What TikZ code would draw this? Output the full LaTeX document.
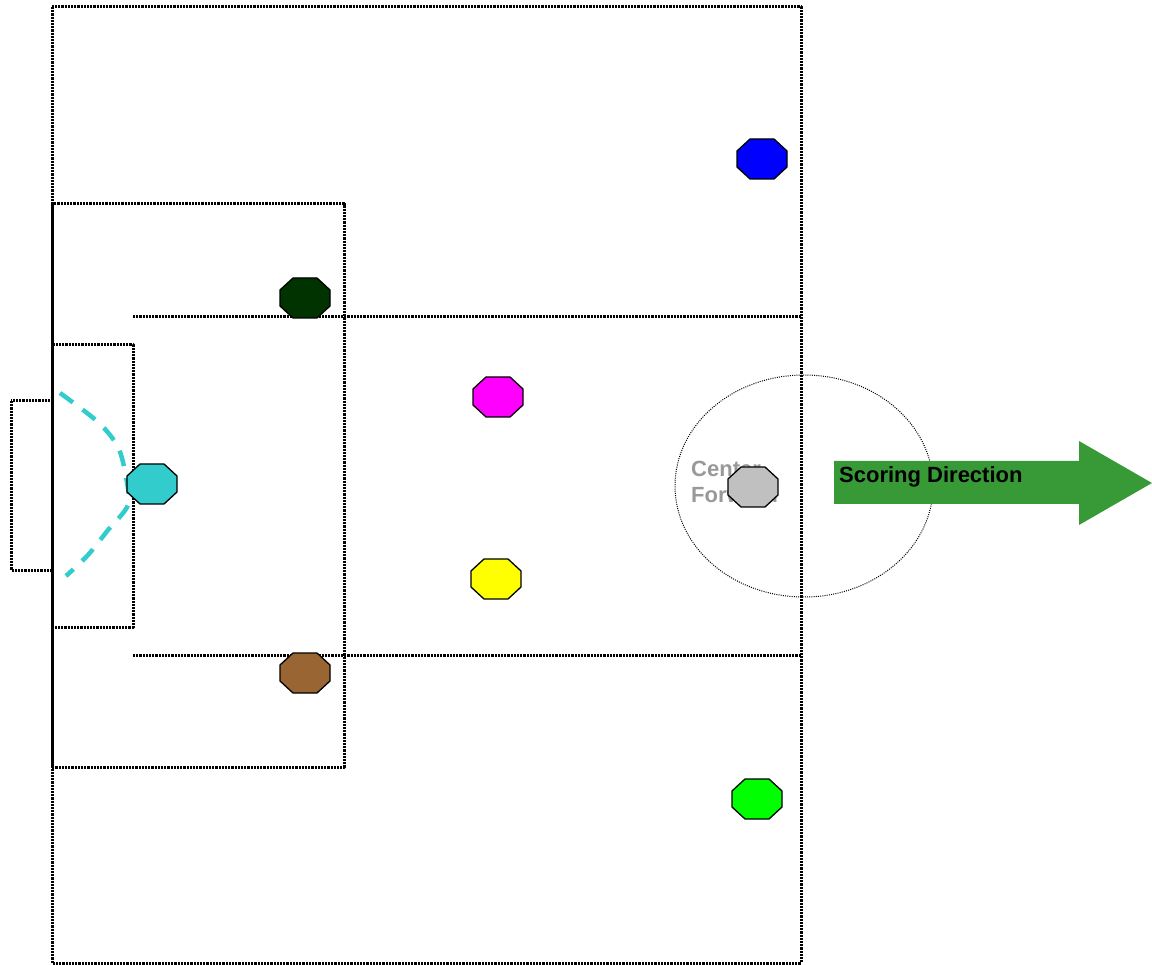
\documentclass[tikz,border=0pt]{standalone}
\usepackage{fontspec}
\setmainfont{Liberation Sans}
\definecolor{keeper}{HTML}{33CCCC}
\definecolor{winger}{HTML}{0000FF}
\definecolor{darkback}{HTML}{003300}
\definecolor{brownback}{HTML}{996633}
\definecolor{playmaker}{HTML}{FF00FF}
\definecolor{holder}{HTML}{FFFF00}
\definecolor{otherwing}{HTML}{00FF00}
\definecolor{striker}{HTML}{C0C0C0}
\definecolor{arrowgreen}{HTML}{379A37}
\definecolor{labelgrey}{HTML}{999999}
\begin{document}
\begin{tikzpicture}[x=1pt,y=-1pt,line join=round,
	pitch/.style={line width=3pt,dash pattern=on 2.2pt off 1pt},
	player/.style={draw=black,line width=1.3pt},
	every node/.style={font=\fontsize{22}{26}\selectfont\bfseries,inner sep=0pt}]
	\useasboundingbox (0,0) rectangle (1152,965);
	\path
	(52,7) coordinate (F1)
	(801,963) coordinate (F2)
	(52,204) coordinate (P1)
	(344,767) coordinate (P2)
	(52,345) coordinate (G1)
	(133,627) coordinate (G2)
	(11,401) coordinate (N1)
	(52,570) coordinate (N2)
	(133,317) coordinate (L1)
	(801,317) coordinate (L2)
	(133,655) coordinate (L3)
	(801,655) coordinate (L4)
	(804,486) coordinate (Z);
	\draw[pitch] (F1) rectangle (F2);
	\draw[pitch] (P1) rectangle (P2);
	\draw[pitch] (G1) rectangle (G2);
	\draw[pitch] (N1) rectangle (N2);
	\draw[pitch] (L1) -- (L2) (L3) -- (L4);
	\draw[line width=1pt,dash pattern=on 1pt off 1.2pt] (Z) ellipse (129 and 111);
	\node[anchor=base west,align=left,text=labelgrey] (cf) at (691,503) {Center\\Forward};
	\draw[keeper,line width=4.5pt,dash pattern=on 16pt off 12pt] plot[smooth] coordinates {(60,393) (98,422) (118,447) (126,477) (128,505) (108,530) (88,555) (66,576)};
	\foreach \p/\x/\y/\col in {
		lw/762/159/winger,
		lb/305/298/darkback,
		am/498/397/playmaker,
		gk/152/484/keeper,
		cfp/753/487/striker,
		dm/496/579/holder,
		rb/305/673/brownback,
		rw/757/799/otherwing}{
		\draw[player,fill=\col] (\x,\y) coordinate (\p) ++(-12,-20) -- ++(24,0) -- ++(13,12) -- ++(0,16) -- ++(-13,12) -- ++(-24,0) -- ++(-13,-12) -- ++(0,-16) -- cycle;
	}
	\fill[arrowgreen] (834,461) -- (1079,461) -- (1079,441) -- (1152,483) -- (1079,525) -- (1079,504) -- (834,504) -- cycle;
	\node[anchor=base west] (sd) at (839,483) {Scoring Direction};
\end{tikzpicture}
\end{document}
